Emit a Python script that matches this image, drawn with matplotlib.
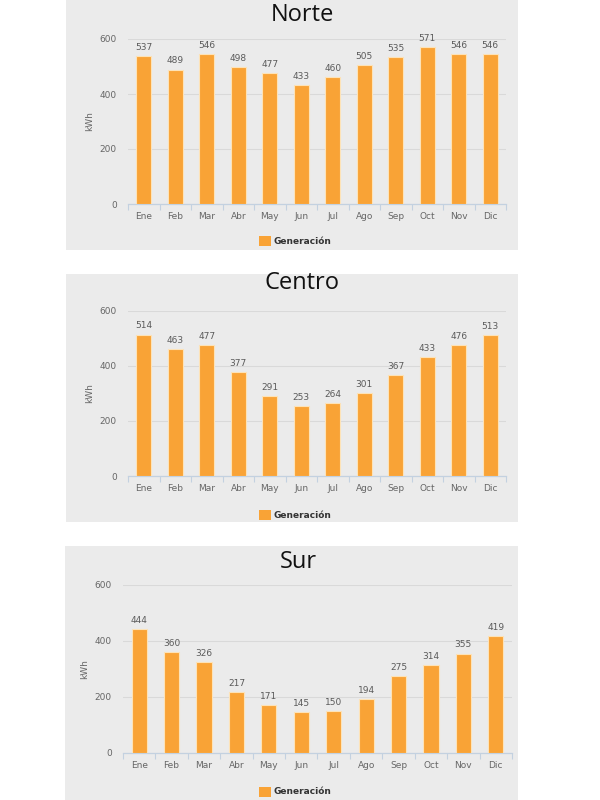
"""Generación mensual (kWh) por zona: Norte, Centro y Sur."""
import matplotlib

matplotlib.use("Agg")
import matplotlib.pyplot as plt
import numpy as np
from matplotlib.patches import Rectangle

MONTHS = ["Ene", "Feb", "Mar", "Abr", "May", "Jun",
          "Jul", "Ago", "Sep", "Oct", "Nov", "Dic"]
NORTE = [537, 489, 546, 498, 477, 433, 460, 505, 535, 571, 546, 546]
CENTRO = [514, 463, 477, 377, 291, 253, 264, 301, 367, 433, 476, 513]
SUR = [444, 360, 326, 217, 171, 145, 150, 194, 275, 314, 355, 419]
TITLES = ["Norte", "Centro", "Sur"]
Y_TICKS = [0, 200, 400, 600]
LEGEND_LABEL = "Generación"

W, H = 600, 800
PANEL_BG = "#ebebeb"
BAR_COLOR = "#f9a336"
BAR_EDGE = "#fde3b8"
GRID_COLOR = "#d9d9d9"
AXIS_COLOR = "#c3d1e0"
TEXT_GREY = "#666666"

# pixel layout: panel box, plot box, title (x, y), legend y, ylabel x
LAYOUT = [
    dict(box=(66, 0, 518, 250), plot=(128, 39, 506, 204), title=(302, 15),
         legend=241, ylab=90),
    dict(box=(66, 274, 518, 522), plot=(128, 311, 506, 476), title=(302, 283),
         legend=515, ylab=90),
    dict(box=(65, 546, 518, 800), plot=(123, 585, 512, 753), title=(298, 562),
         legend=792, ylab=85),
]


def fx(px):
    return px / W


def fy(py):
    return 1 - py / H


def draw_panel(fig, values, title, lay):
    x0, y0, x1, y1 = lay["box"]
    fig.patches.append(Rectangle((fx(x0), fy(y1)), fx(x1 - x0), (y1 - y0) / H,
                                 transform=fig.transFigure, facecolor=PANEL_BG,
                                 edgecolor="none", zorder=-1))
    px0, py0, px1, py1 = lay["plot"]
    ax = fig.add_axes([fx(px0), fy(py1), fx(px1 - px0), (py1 - py0) / H])
    ax.set_facecolor(PANEL_BG)

    x = np.arange(len(MONTHS))
    bars = ax.bar(x, values, width=0.47, color=BAR_COLOR, edgecolor=BAR_EDGE,
                  linewidth=0.8, zorder=3)
    for b, v in zip(bars, values):
        ax.annotate(str(v), (b.get_x() + b.get_width() / 2, v), xytext=(0, 3),
                    textcoords="offset points", ha="center", va="bottom",
                    fontsize=6.5, color="#5a5a5a", zorder=4,
                    annotation_clip=False)

    ax.set_xlim(-0.5, len(MONTHS) - 0.5)
    ax.set_ylim(0, 600)
    ax.set_yticks(Y_TICKS)
    ax.yaxis.grid(True, color=GRID_COLOR, linewidth=0.8, zorder=0)
    ax.set_axisbelow(True)
    ax.tick_params(axis="y", length=0, pad=8, labelsize=6.5, labelcolor=TEXT_GREY)

    ax.set_xticks(x)
    ax.set_xticklabels(MONTHS)
    ax.set_xticks(np.arange(-0.5, len(MONTHS)), minor=True)
    ax.tick_params(axis="x", which="major", length=0, pad=6, labelsize=6.5,
                   labelcolor=TEXT_GREY)
    ax.tick_params(axis="x", which="minor", length=4, width=0.8, color=AXIS_COLOR)

    for side in ("top", "right", "left"):
        ax.spines[side].set_visible(False)
    ax.spines["bottom"].set_color(AXIS_COLOR)
    ax.spines["bottom"].set_linewidth(0.9)

    fig.text(fx(lay["ylab"]), fy((py0 + py1) / 2), "kWh", rotation=90,
             ha="center", va="center", fontsize=6.5, color=TEXT_GREY)
    tx, ty = lay["title"]
    fig.text(fx(tx), fy(ty), title, ha="center", va="center", fontsize=17,
             family="Open Sans", color="#111111")

    # legend: small square + bold label
    ly = lay["legend"]
    fig.patches.append(Rectangle((fx(259), fy(ly + 5)), fx(12), 10 / H,
                                 transform=fig.transFigure, facecolor=BAR_COLOR,
                                 edgecolor="none", zorder=2))
    fig.text(fx(274), fy(ly), LEGEND_LABEL, ha="left", va="center",
             fontsize=6.5, fontweight="bold", color="#333333")


def main():
    fig = plt.figure(figsize=(W / 100, H / 100), dpi=100, facecolor="white")
    for values, title, lay in zip([NORTE, CENTRO, SUR], TITLES, LAYOUT):
        draw_panel(fig, values, title, lay)
    fig.savefig("out.png", dpi=100, facecolor="white")
    plt.close(fig)


if __name__ == "__main__":
    main()
